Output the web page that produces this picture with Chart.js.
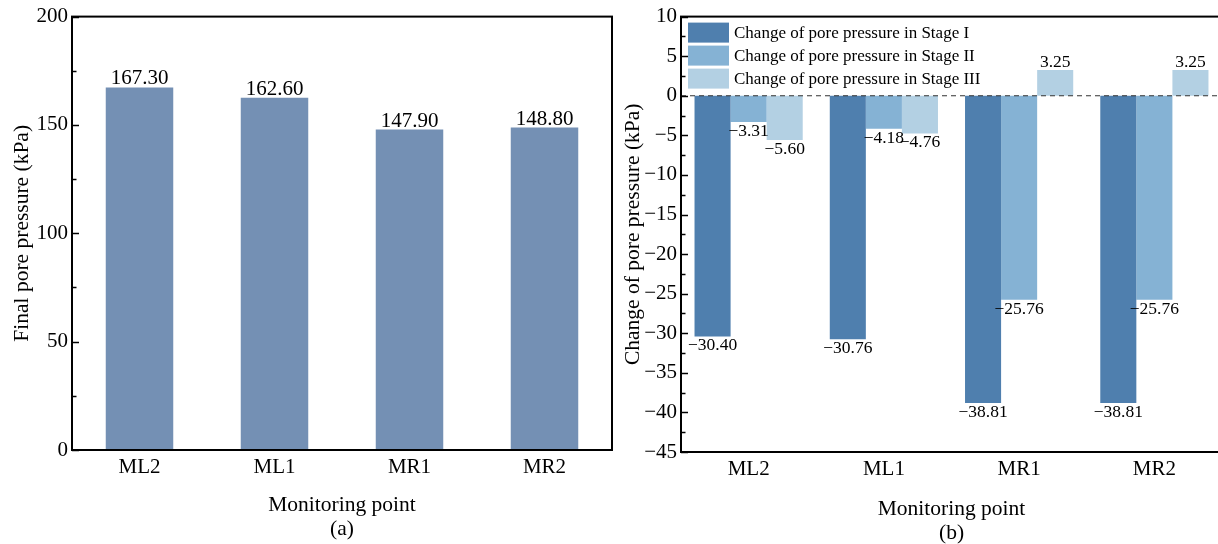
<!DOCTYPE html>
<html>
<head>
<meta charset="utf-8">
<script src="https://cdn.jsdelivr.net/npm/chart.js@4"></script>
<style>
  html, body { margin: 0; padding: 0; background: #fff; overflow: hidden; width: 1218px; height: 544px; }
  canvas { position: absolute; top: 0; }
  #finalChart { left: 0; }
  #changeChart { left: 620px; }
</style>
</head>
<body>
<canvas id="finalChart" width="640" height="544"></canvas>
<canvas id="changeChart" width="620" height="544"></canvas>
<script>
// Monitoring points shared by both panels
const monitoringPoints = ['ML2', 'ML1', 'MR1', 'MR2'];

// Panel (a): final pore pressure (kPa)
const finalPressure = [167.30, 162.60, 147.90, 148.80];
const finalTicks = [0, 50, 100, 150, 200];

// Panel (b): change of pore pressure per stage (kPa)
const stageLabels = [
  'Change of pore pressure in Stage I',
  'Change of pore pressure in Stage II',
  'Change of pore pressure in Stage III'
];
const stage1Change = [-30.40, -30.76, -38.81, -38.81];
const stage2Change = [-3.31, -4.18, -25.76, -25.76];
const stage3Change = [-5.60, -4.76, 3.25, 3.25];
const changeTicks = [10, 5, 0, -5, -10, -15, -20, -25, -30, -35, -40, -45];

const serif = "'Liberation Serif', 'Times New Roman', serif";
Chart.defaults.font.family = serif;
Chart.defaults.color = '#000';

const minus = '\u2212';
function fmtTick(v) { return v < 0 ? minus + Math.abs(v) : String(v); }
function fmtValue(v) { const s = Math.abs(v).toFixed(2); return v < 0 ? minus + s : s; }

// Box frame, inward y ticks (major + minor) and optional dashed zero line
const framePlugin = {
  id: 'frame',
  afterDatasetsDraw(chart, args, opts) {
    const { ctx, chartArea: a } = chart;
    const y = chart.scales.y;
    ctx.save();
    if (opts.zeroLine) {
      const py = y.getPixelForValue(0);
      ctx.strokeStyle = '#333';
      ctx.lineWidth = 1.2;
      ctx.setLineDash([5, 4]);
      ctx.beginPath(); ctx.moveTo(a.left, py); ctx.lineTo(a.right, py); ctx.stroke();
      ctx.setLineDash([]);
    }
    ctx.strokeStyle = '#000';
    ctx.lineWidth = 1.5;
    const n = Math.round((y.max - y.min) / opts.minorStep);
    for (let i = 0; i <= n; i++) {
      const v = y.min + i * opts.minorStep;
      const py = Math.round(y.getPixelForValue(v)) + 0.5;
      const major = i % 2 === 0;
      const len = major ? 7 : 4.5;
      ctx.beginPath(); ctx.moveTo(a.left, py); ctx.lineTo(a.left + len, py); ctx.stroke();
    }
    ctx.lineWidth = 2;
    ctx.strokeRect(a.left, a.top, a.right - a.left, a.bottom - a.top);
    ctx.restore();
  }
};

// Value labels at the end of every bar
const valueLabelPlugin = {
  id: 'valueLabels',
  afterDatasetsDraw(chart, args, opts) {
    const { ctx } = chart;
    ctx.save();
    ctx.font = opts.size + 'px ' + serif;
    ctx.fillStyle = '#000';
    ctx.textAlign = 'center';
    ctx.textBaseline = 'alphabetic';
    chart.data.datasets.forEach((ds, di) => {
      const meta = chart.getDatasetMeta(di);
      meta.data.forEach((el, i) => {
        const v = ds.data[i];
        const y = v >= 0 ? el.y - opts.above : el.y + opts.below;
        ctx.fillText(fmtValue(v), el.x + (opts.dx || 0), y);
      });
    });
    ctx.restore();
  }
};

// Stacked legend inside the top-left corner of the plot
const insideLegendPlugin = {
  id: 'insideLegend',
  afterDraw(chart, args, opts) {
    if (!opts.show) return;
    const { ctx, chartArea: a } = chart;
    ctx.save();
    ctx.font = opts.size + 'px ' + serif;
    ctx.textBaseline = 'middle';
    ctx.textAlign = 'left';
    chart.data.datasets.forEach((ds, i) => {
      const bx = a.left + 7;
      const by = a.top + 6 + i * 23;
      ctx.fillStyle = ds.backgroundColor;
      ctx.fillRect(bx, by, 41, 20);
      ctx.fillStyle = '#000';
      ctx.fillText(ds.label, bx + 46, by + 10.5);
    });
    ctx.restore();
  }
};

function yScale(min, max, ticks, title, width, titlePad) {
  return {
    min: min, max: max,
    grid: { display: false, drawTicks: false },
    border: { display: false },
    afterBuildTicks(s) { s.ticks = ticks.map(v => ({ value: v })); },
    ticks: { font: { size: 21 }, color: '#000', padding: 4, callback: v => fmtTick(v) },
    title: { display: true, text: title, font: { size: 21.5, lineHeight: 1.12 }, color: '#000', padding: { top: titlePad, bottom: 0 } },
    afterFit(s) { s.width = width; }
  };
}

function xScale(caption, height, bottomPad) {
  return {
    type: 'category',
    grid: { display: false, drawTicks: false },
    border: { display: false },
    ticks: { font: { size: 21 }, color: '#000', padding: 5 },
    title: { display: true, text: ['Monitoring point', caption], font: { size: 21.5, lineHeight: 1.12 }, color: '#000', padding: { top: 0, bottom: bottomPad } },
    afterFit(s) { s.height = height; }
  };
}

new Chart(document.getElementById('finalChart'), {
  type: 'bar',
  data: {
    labels: monitoringPoints,
    datasets: [{
      label: 'Final pore pressure',
      data: finalPressure,
      backgroundColor: '#7490B4',
      barPercentage: 0.5,
      categoryPercentage: 1.0
    }]
  },
  options: {
    responsive: false,
    animation: false,
    layout: { padding: { top: 15, right: 28, left: 0, bottom: 0 } },
    plugins: {
      legend: { display: false },
      tooltip: { enabled: false },
      frame: { minorStep: 25, zeroLine: false },
      valueLabels: { size: 21, above: 3, below: 14 },
      insideLegend: { show: false }
    },
    scales: {
      x: xScale('(a)', 94, 3),
      y: yScale(0, 200, finalTicks, 'Final pore pressure (kPa)', 72, 10)
    }
  },
  plugins: [framePlugin, valueLabelPlugin, insideLegendPlugin]
});

new Chart(document.getElementById('changeChart'), {
  type: 'bar',
  data: {
    labels: monitoringPoints,
    datasets: [
      { label: stageLabels[0], data: stage1Change, backgroundColor: '#4F7FAE' },
      { label: stageLabels[1], data: stage2Change, backgroundColor: '#85B2D4' },
      { label: stageLabels[2], data: stage3Change, backgroundColor: '#B3D0E3' }
    ]
  },
  options: {
    responsive: false,
    animation: false,
    datasets: { bar: { barPercentage: 1.0, categoryPercentage: 0.8 } },
    layout: { padding: { top: 15, right: 18, left: 0, bottom: 0 } },
    plugins: {
      legend: { display: false },
      tooltip: { enabled: false },
      frame: { minorStep: 2.5, zeroLine: true },
      valueLabels: { size: 17.5, above: 3, below: 14 },
      insideLegend: { show: true, size: 17 }
    },
    scales: {
      x: xScale('(b)', 92, -1),
      y: yScale(-45, 10, changeTicks, 'Change of pore pressure (kPa)', 61, 1)
    }
  },
  plugins: [framePlugin, valueLabelPlugin, insideLegendPlugin]
});
</script>
</body>
</html>
